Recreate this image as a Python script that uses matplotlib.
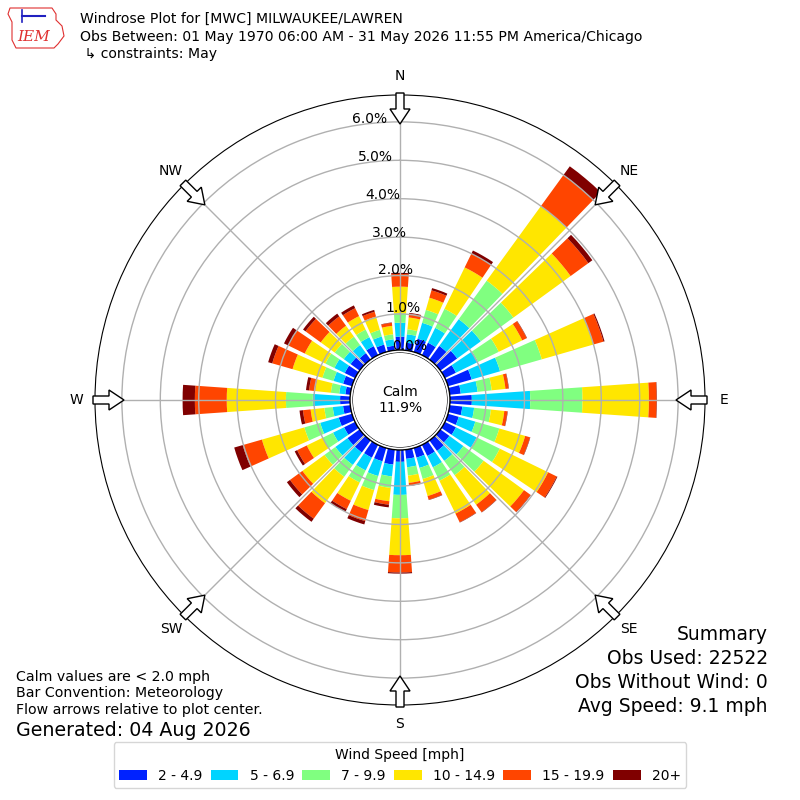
import numpy as np
import matplotlib.pyplot as plt
from matplotlib.patches import Circle, FancyArrow, Polygon

# wind directions (degrees, 0 = N), 10 degree bins
directions = np.arange(0, 360, 10)

speed_labels = ['2 - 4.9', '5 - 6.9', '7 - 9.9', '10 - 14.9', '15 - 19.9', '20+']
speed_colors = ['#0022ff', '#00d4ff', '#80ff80', '#ffe600', '#ff4500', '#800000']

# frequency (%) per speed bin, one value per direction (0, 10, ..., 350)
pct_2_5 = [0.41, 0.26, 0.42, 0.42, 0.50, 0.60, 0.38, 0.70, 0.35, 0.63, 0.39, 0.35,
           0.38, 0.35, 0.40, 0.38, 0.32, 0.30, 0.37, 0.45, 0.42, 0.43, 0.45, 0.45,
           0.38, 0.42, 0.25, 0.32, 0.19, 0.30, 0.36, 0.35, 0.27, 0.32, 0.26, 0.18]
pct_5_7 = [0.36, 0.22, 0.43, 0.43, 0.86, 0.76, 0.64, 0.77, 0.44, 1.52, 0.31, 0.45,
           0.60, 0.45, 0.32, 0.33, 0.28, 0.22, 0.86, 0.31, 0.40, 0.37, 0.40, 0.39,
           0.32, 0.50, 0.27, 0.71, 0.16, 0.26, 0.30, 0.22, 0.26, 0.26, 0.22, 0.17]
pct_7_10 = [0.25, 0.13, 0.35, 0.55, 1.24, 1.05, 0.60, 1.13, 0.37, 1.36, 0.44, 0.65,
            0.67, 0.65, 0.46, 0.39, 0.30, 0.22, 0.61, 0.30, 0.38, 0.35, 0.38, 0.35,
            0.30, 0.43, 0.22, 0.70, 0.22, 0.30, 0.26, 0.29, 0.27, 0.22, 0.18, 0.13]
pct_10_15 = [0.69, 0.31, 0.33, 1.20, 2.40, 1.84, 0.68, 1.40, 0.36, 1.73, 0.35, 0.70,
             1.40, 1.30, 0.95, 0.95, 0.46, 0.19, 0.96, 0.35, 0.54, 0.53, 0.85, 0.71,
             0.46, 1.15, 0.36, 1.54, 0.41, 0.81, 0.60, 0.45, 0.35, 0.39, 0.36, 0.22]
pct_15_20 = [0.33, 0.10, 0.20, 0.40, 1.00, 0.57, 0.13, 0.27, 0.08, 0.20, 0.08, 0.13,
             0.25, 0.21, 0.24, 0.25, 0.10, 0.07, 0.45, 0.09, 0.30, 0.24, 0.50, 0.40,
             0.28, 0.52, 0.20, 0.83, 0.16, 0.55, 0.48, 0.49, 0.30, 0.23, 0.13, 0.08]
pct_20_up = [0.03, 0.02, 0.06, 0.09, 0.28, 0.13, 0.01, 0.03, 0.01, 0.01, 0.01, 0.01,
             0.02, 0.01, 0.01, 0.01, 0.01, 0.01, 0.03, 0.07, 0.09, 0.08, 0.10, 0.10,
             0.07, 0.23, 0.09, 0.32, 0.08, 0.11, 0.12, 0.08, 0.09, 0.08, 0.05, 0.01]
speed_bins = [pct_2_5, pct_5_7, pct_7_10, pct_10_15, pct_15_20, pct_20_up]

calm_pct = 11.9
compass = ['N', 'NE', 'E', 'SE', 'S', 'SW', 'W', 'NW']
compass_deg = np.arange(0, 360, 45)

fig = plt.figure(figsize=(8, 8), dpi=100)
ax = fig.add_axes([0.11875, 0.11875, 0.7625, 0.7625], projection='polar')
ax.set_theta_zero_location('N')
ax.set_theta_direction(-1)

theta = np.deg2rad(directions)
bottom = np.zeros(len(directions))
for vals, lab, col in zip(speed_bins, speed_labels, speed_colors):
    vals = np.array(vals)
    ax.bar(theta, vals, width=np.deg2rad(8), bottom=bottom, color=col,
           label=lab, linewidth=0, align='center')
    bottom += vals

ax.set_ylim(0, 6.7)
ax.set_rorigin(-1.24)
ax.set_yticks(range(7))
ax.set_yticklabels(['%.1f%%' % v for v in range(7)], fontsize=10)
ax.set_rlabel_position(350)
ax.set_xticks(np.deg2rad(compass_deg))
ax.set_xticklabels(compass, fontsize=10)
ax.tick_params(axis='x', pad=3)
ax.grid(True, color='#b0b0b0', linewidth=1)

# calm circle in the middle
calm = Circle((0.5, 0.5), 50 / 610, transform=ax.transAxes, facecolor='white',
              edgecolor='black', linewidth=1, zorder=5)
ax.add_artist(calm)
ax.text(0.5, 0.5, 'Calm\n%.1f%%' % calm_pct, transform=ax.transAxes, ha='center',
        va='center', fontsize=10, zorder=6)

# hollow flow arrows at the compass points
cx, cy, rad = 0.5, 0.5, 307 / 800
for d in compass_deg:
    ux, uy = np.sin(np.deg2rad(d)), np.cos(np.deg2rad(d))
    arr = FancyArrow(cx + rad * ux, cy + rad * uy, -31 / 800 * ux, -31 / 800 * uy,
                     width=8 / 800, head_width=20 / 800, head_length=15 / 800,
                     length_includes_head=True, transform=fig.transFigure,
                     facecolor='white', edgecolor='black', linewidth=1, zorder=10)
    fig.add_artist(arr)

# header
fig.text(0.1, 1 - 19 / 800, 'Windrose Plot for [MWC] MILWAUKEE/LAWREN', fontsize=10.1, va='center')
fig.text(0.1, 1 - 37 / 800, 'Obs Between: 01 May 1970 06:00 AM - 31 May 2026 11:55 PM America/Chicago',
         fontsize=10.1, va='center')
fig.text(0.1, 1 - 54 / 800, ' \u21b3 constraints: May', fontsize=10.1, va='center')

# simple IEM logo
logo = Polygon([[10, 8], [52, 8], [56, 14], [56, 20], [62, 26], [64, 36], [58, 44],
                [54, 48], [16, 48], [12, 40], [12, 22], [8, 14]],
               closed=True, facecolor='white', edgecolor='#e03030', linewidth=0.8)
logo.set_xy(np.array(logo.get_xy()) * [1 / 800, -1 / 800] + [0, 1])
logo.set_transform(fig.transFigure)
fig.add_artist(logo)
fig.text(34 / 800, 1 - 37 / 800, 'IEM', fontsize=11, color='#e03030', style='italic',
         family='DejaVu Serif', ha='center', va='center')
fig.add_artist(plt.Line2D([22 / 800, 45 / 800], [1 - 16 / 800, 1 - 16 / 800], color='#2020c0',
                          linewidth=1.5, transform=fig.transFigure))
fig.add_artist(plt.Line2D([22 / 800, 22 / 800], [1 - 10 / 800, 1 - 22 / 800], color='#2020c0',
                          linewidth=1.2, transform=fig.transFigure))

# summary block
summary = ['Summary', 'Obs Used: 22522', 'Obs Without Wind: 0', 'Avg Speed: 9.1 mph']
for i, s in enumerate(summary):
    fig.text(768 / 800, 1 - (635 + 24 * i) / 800, s, fontsize=13.5, ha='right', va='center')

notes = ['Calm values are < 2.0 mph', 'Bar Convention: Meteorology',
         'Flow arrows relative to plot center.']
for i, s in enumerate(notes):
    fig.text(16 / 800, 1 - (677 + 16.5 * i) / 800, s, fontsize=10.2, va='center')
fig.text(16 / 800, 1 - 730 / 800, 'Generated: 04 Aug 2026', fontsize=13.7, va='center')

handles, labels = ax.get_legend_handles_labels()
fig.legend(handles, labels, loc='lower center', bbox_to_anchor=(0.5, 0.006), ncol=6,
           title='Wind Speed [mph]', fontsize=10, title_fontsize=10, columnspacing=0.6,
           handlelength=2.0)

fig.savefig('out.png', dpi=100)
